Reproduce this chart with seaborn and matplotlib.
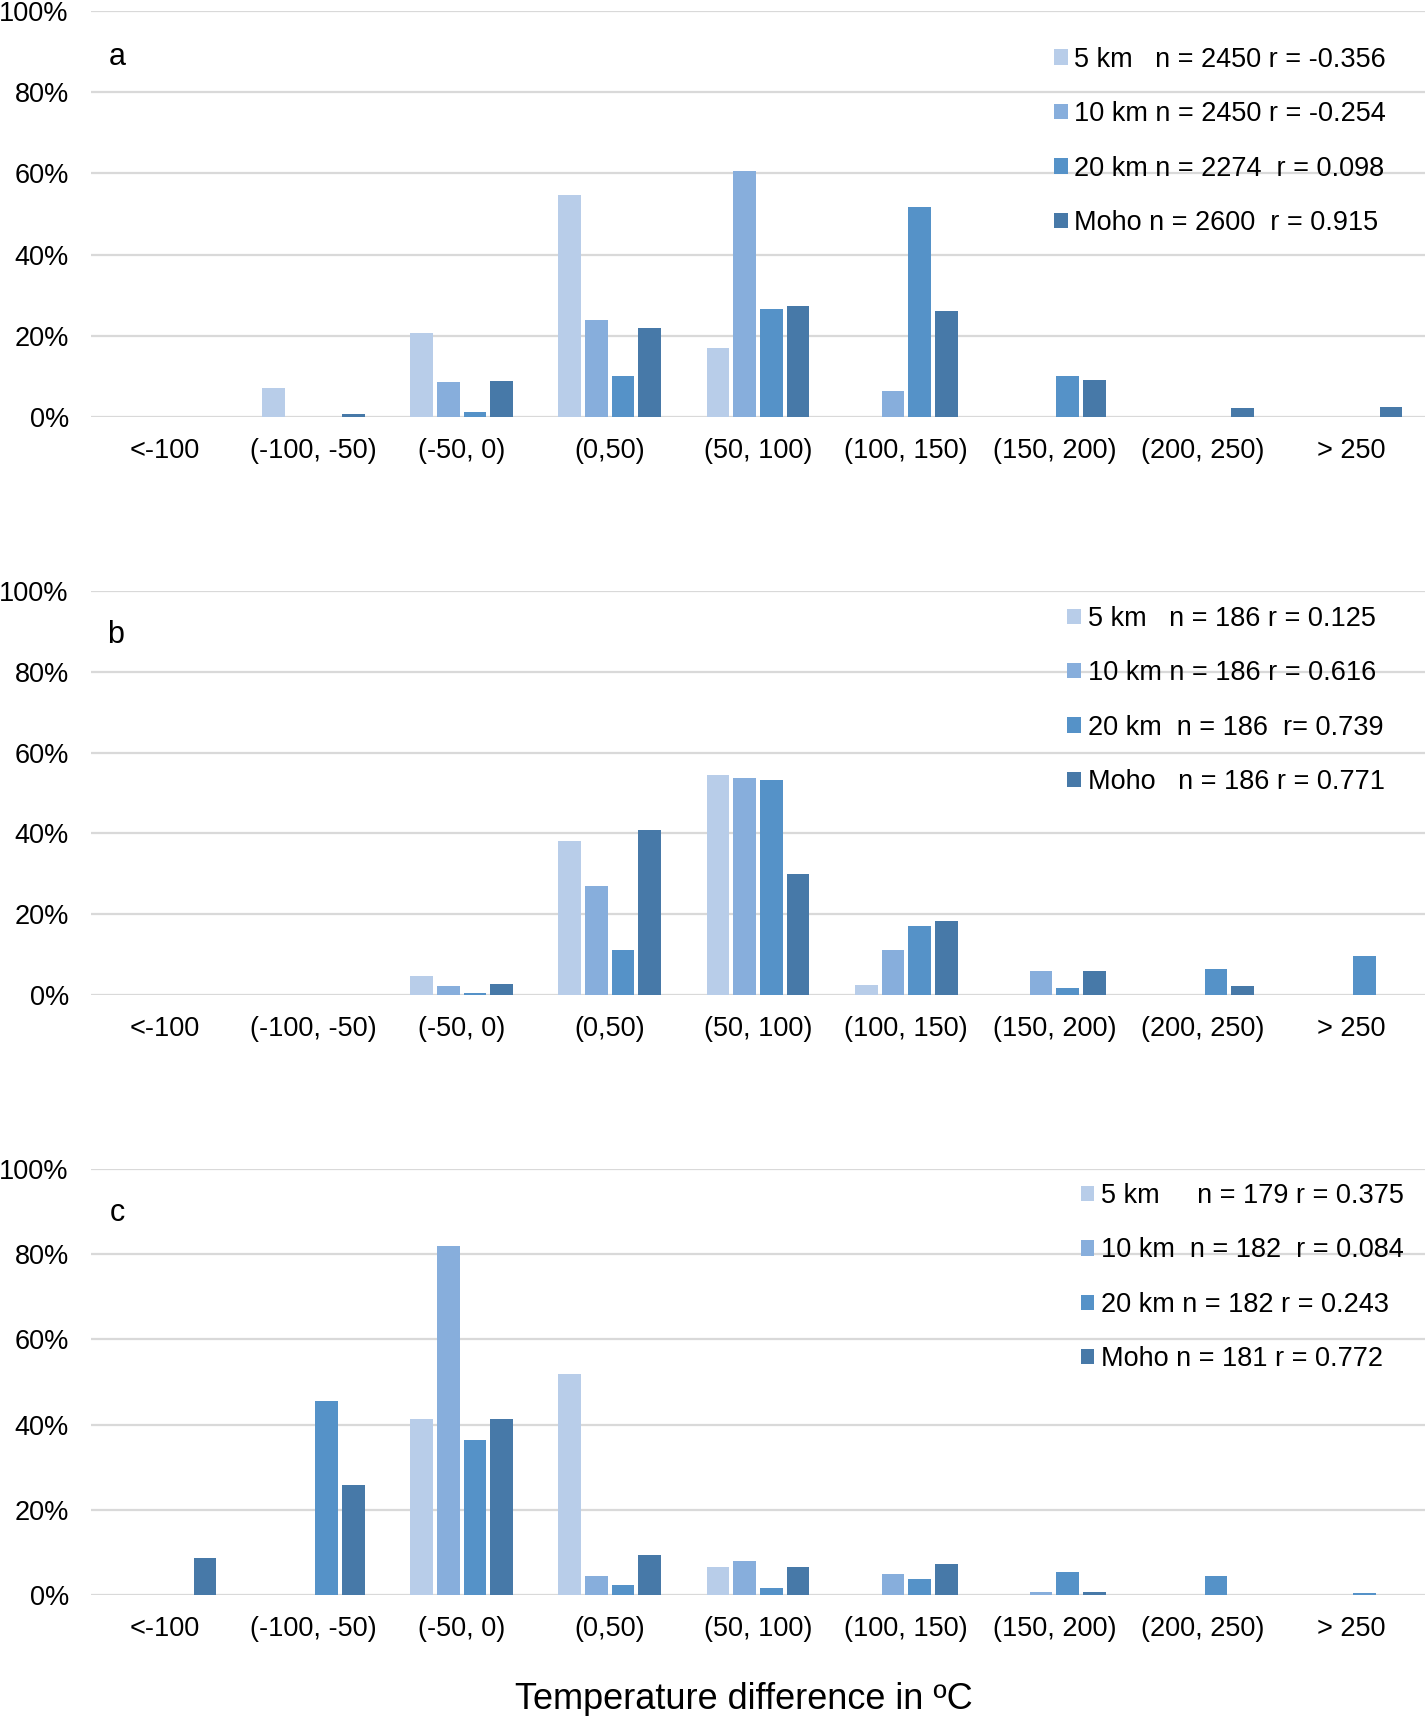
import numpy as np
import pandas as pd
import seaborn as sns
import matplotlib.pyplot as plt
from matplotlib.ticker import PercentFormatter

# bins and depth levels
categories = ['<-100', '(-100, -50)', '(-50, 0)', '(0,50)', '(50, 100)',
              '(100, 150)', '(150, 200)', '(200, 250)', '> 250']
depths = ['5 km', '10 km', '20 km', 'Moho']
colors = ['#B8CDE9', '#87AEDC', '#5592C8', '#4779A8']

# panel a (percent of points per bin)
a_5km = [0, 7.2, 20.6, 54.7, 17.0, 0, 0, 0, 0]
a_10km = [0, 0, 8.7, 23.9, 60.6, 6.5, 0, 0, 0]
a_20km = [0, 0, 1.2, 10.1, 26.6, 51.6, 10.2, 0, 0]
a_moho = [0, 0.8, 8.9, 21.8, 27.4, 26.2, 9.0, 2.2, 2.4]
a_labels = ['5 km   n = 2450 r = -0.356', '10 km n = 2450 r = -0.254',
            '20 km n = 2274  r = 0.098', 'Moho n = 2600  r = 0.915']

# panel b
b_5km = [0, 0, 4.7, 38.2, 54.4, 2.5, 0, 0, 0]
b_10km = [0, 0, 2.1, 26.9, 53.7, 11.2, 5.9, 0, 0]
b_20km = [0, 0, 0.4, 11.2, 53.3, 17.1, 1.6, 6.4, 9.6]
b_moho = [0, 0, 2.6, 40.9, 30.0, 18.3, 5.9, 2.1, 0]
b_labels = ['5 km   n = 186 r = 0.125', '10 km n = 186 r = 0.616',
            '20 km  n = 186  r= 0.739', 'Moho   n = 186 r = 0.771']

# panel c
c_5km = [0, 0, 41.3, 51.9, 6.6, 0, 0, 0, 0]
c_10km = [0, 0, 81.8, 4.4, 8.1, 4.9, 0.7, 0, 0]
c_20km = [0, 45.6, 36.3, 2.3, 1.6, 3.8, 5.5, 4.4, 0.5]
c_moho = [8.8, 25.9, 41.4, 9.4, 6.6, 7.2, 0.7, 0, 0]
c_labels = ['5 km     n = 179 r = 0.375', '10 km  n = 182  r = 0.084',
            '20 km n = 182 r = 0.243', 'Moho n = 181 r = 0.772']

sns.set_theme(style='white')
plt.rcParams['font.family'] = ['Liberation Sans', 'DejaVu Sans']
plt.rcParams['text.color'] = 'black'

fig = plt.figure(figsize=(14.26, 17.16), dpi=100)

panels = [
    ('a', [a_5km, a_10km, a_20km, a_moho], a_labels, [0.0638, 0.757, 0.9355, 0.2366], (0.722, 0.912), (0.082, 0.967)),
    ('b', [b_5km, b_10km, b_20km, b_moho], b_labels, [0.0638, 0.4202, 0.9355, 0.2354], (0.732, 0.963), (0.081, 0.630)),
    ('c', [c_5km, c_10km, c_20km, c_moho], c_labels, [0.0638, 0.0705, 0.9355, 0.2483], (0.742, 0.967), (0.082, 0.293)),
]

for letter, series, labels, rect, leg_pos, letter_pos in panels:
    ax = fig.add_axes(rect)
    df = pd.DataFrame({
        'bin': categories * len(depths),
        'depth': np.repeat(depths, len(categories)),
        'pct': sum(series, []),
    })
    sns.barplot(data=df, x='bin', y='pct', hue='depth', hue_order=depths,
                order=categories, palette=colors, saturation=1, width=0.72,
                gap=0.15, linewidth=0, ax=ax)

    ax.set_ylim(0, 100)
    ax.set_xlim(-0.5, len(categories) - 0.5)
    ax.set_yticks(range(0, 101, 20))
    ax.yaxis.set_major_formatter(PercentFormatter(100, decimals=0))
    ax.grid(axis='y', color='#D9D9D9', linewidth=1.6)
    ax.set_axisbelow(True)
    for s in ax.spines.values():
        s.set_visible(False)
    ax.tick_params(axis='both', length=0, labelsize=19.5, colors='black')
    ax.tick_params(axis='y', pad=16)
    ax.tick_params(axis='x', pad=15)
    ax.set_xlabel('')
    ax.set_ylabel('')

    handles, _ = ax.get_legend_handles_labels()
    ax.legend(handles, labels, loc='upper left', bbox_to_anchor=leg_pos,
              frameon=False, fontsize=19.5, labelcolor='black',
              handlelength=0.5, handleheight=0.5, handletextpad=0.25,
              labelspacing=1.05, borderpad=0, borderaxespad=0)

    fig.text(letter_pos[0], letter_pos[1], letter, fontsize=22,
             ha='center', va='center')

fig.text(0.522, 0.0099, 'Temperature difference in ºC', fontsize=26,
         ha='center', va='center')

fig.savefig('out.png', dpi=100)
